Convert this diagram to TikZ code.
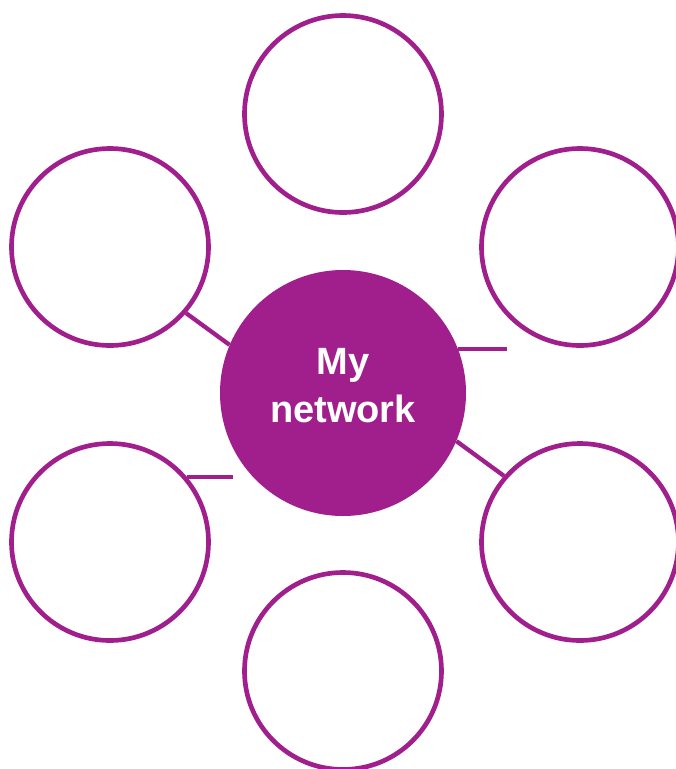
\documentclass[tikz,border=0pt]{standalone}
\usepackage{fontspec}
\setmainfont{Liberation Sans}
\usepackage{tikz}

\definecolor{netpurple}{RGB}{160,31,141}

\begin{document}
\begin{tikzpicture}[x=.75pt, y=-.75pt,
    friend/.style={circle, draw=netpurple, line width=3.5pt, fill=white, minimum size=147.75pt, inner sep=0pt},
    hub/.style={circle, fill=netpurple, minimum size=184.5pt, inner sep=0pt, text=white,
                font=\fontsize{28.5}{36}\selectfont\bfseries, align=center, text depth=11pt},
    link/.style={draw=netpurple, line width=3.2pt}]
     \useasboundingbox (0, 0) rectangle (676, 769);

     \node[hub] (hub) at (343, 393) {My\\network};

     \node[friend] (top) at (343, 114) {};
     \node[friend] (lt) at (110, 247) {};
     \node[friend] (rt) at (580, 247) {};
     \node[friend] (lb) at (110, 542) {};
     \node[friend] (rb) at (580, 542) {};
     \node[friend] (bot) at (343, 671) {};

     \coordinate (rtend) at (507, 349);
     \coordinate (lbend) at (233, 479);

     \draw[link] (lt.-41) -- (hub.157);
     \draw[link] (hub.21) -- (hub.21 -| rtend);
     \draw[link] (lb.40) -- (lb.40 -| lbend);
     \draw[link] (hub.-23) -- (rb.139);
\end{tikzpicture}
\end{document}
